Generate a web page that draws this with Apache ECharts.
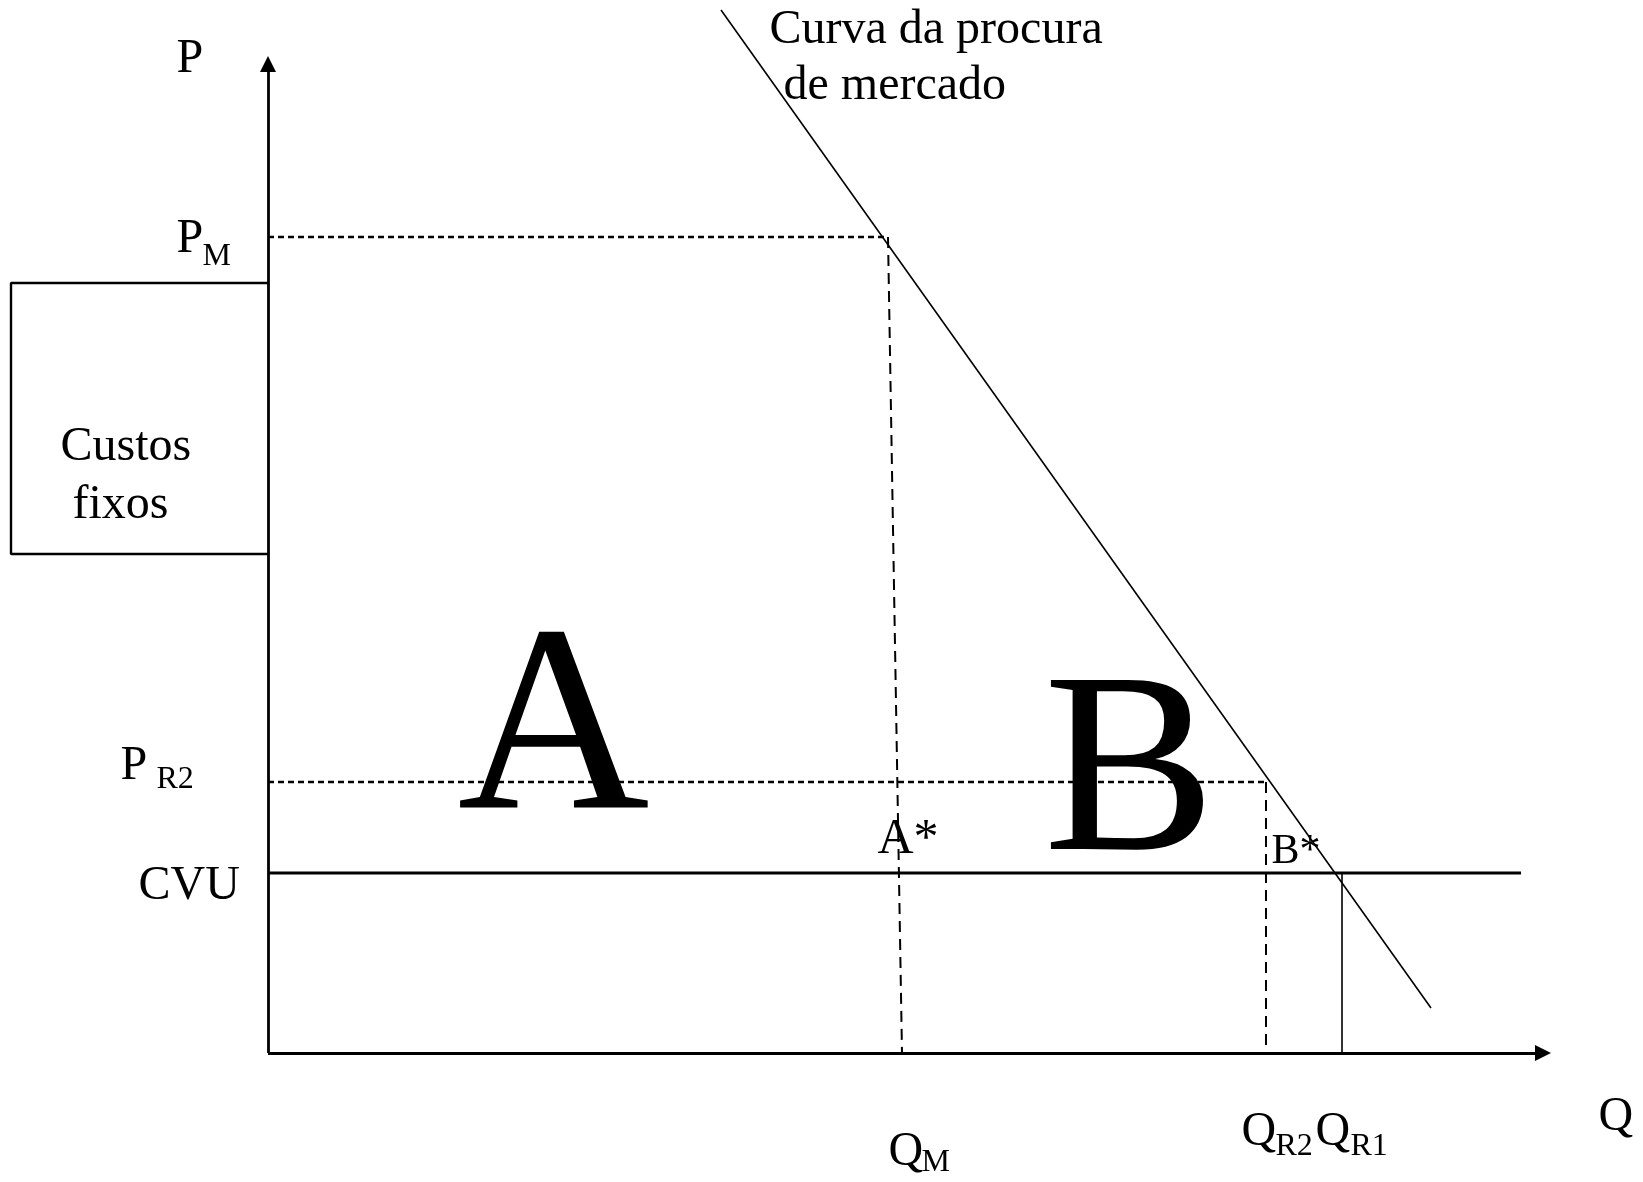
<!DOCTYPE html>
<html><head><meta charset="utf-8">
<script src="https://cdn.jsdelivr.net/npm/echarts@6/dist/echarts.min.js"></script>
<style>html,body{margin:0;padding:0;background:#fff}#c{width:1643px;height:1182px}</style>
</head><body><div id="c"></div>
<script>
// ---- data (chart units on each axis) ----
const xRange = [-26.8, 137.5];
const yRange = [-12.9, 105.3];
const axisEnds = [127.5, 98.9];               // Q axis end, P axis end
const priceLevels = [81.6, 27.1, 18.0];       // P_M, P_R2, CVU
const quantityLevels = [62.0, 99.8, 107.4];   // Q_M, Q_R2, Q_R1
const qmFoot = 63.4;                          // where the Q_M guide meets the Q axis
const cvuEnd = 125.3;
const demandCurve = [[45.3, 104.3], [116.3, 4.5]];
const fixedCostBox = [[0, 77.0], [-25.7, 77.0], [-25.7, 49.9], [0, 49.9]];

const labelTexts = ['P', 'P', 'M', 'P', 'R2', 'CVU', 'Custos', 'fixos',
  'Curva da procura', 'de mercado', 'A', 'B', 'A*', 'B*',
  'Q', 'M', 'Q', 'R2', 'Q', 'R1', 'Q'];
const labelAnchors = [[-9.1, 99.33], [-9.1, 81.33], [-6.5, 79.62], [-14.7, 28.63], [-11.1, 27.32],
  [-12.9, 16.63], [-20.7, 60.53], [-19.5, 54.73], [50.2, 102.23], [51.6, 96.58],
  [19.0, 31.49], [77.6, 27.13], [61.0, 21.29], [100.4, 20.08],
  [62.1, -9.97], [65.4, -10.98], [97.4, -7.97], [100.8, -9.4], [104.8, -7.97], [108.3, -9.4], [133.1, -6.47]];
const labelKinds = ['main', 'main', 'sub', 'main', 'sub', 'main', 'main', 'main',
  'main', 'main', 'bigA', 'bigB', 'starA', 'starB',
  'main', 'sub', 'main', 'sub', 'main', 'sub', 'main'];

// ---- styles ----
const FONT = '"Liberation Serif", "Times New Roman", serif';
const kindSize = { main: 48, sub: 32, bigA: 266, bigB: 258, starA: 50, starB: 42 };

function seg(points, width, type) {
  return {
    type: 'line', data: points, showSymbol: false, symbol: 'none', silent: true,
    clip: false, animation: false,
    lineStyle: { color: '#000', width: width, type: type || 'solid', cap: 'butt' },
    z: 2
  };
}

const series = [
  seg(fixedCostBox, 2.4),
  seg([[0, priceLevels[0]], [quantityLevels[0], priceLevels[0]]], 2.4, [6, 4]),
  seg([[quantityLevels[0], priceLevels[0]], [qmFoot, 0]], 2, [11, 7]),
  seg([[0, priceLevels[1]], [quantityLevels[1], priceLevels[1]]], 2.4, [6, 4]),
  seg([[quantityLevels[1], priceLevels[1]], [quantityLevels[1], 0]], 2, [11, 7]),
  seg([[0, priceLevels[2]], [cvuEnd, priceLevels[2]]], 2.8),
  seg([[quantityLevels[2], priceLevels[2]], [quantityLevels[2], 0]], 1.6),
  seg(demandCurve, 1.6),
  {
    type: 'line', data: [], silent: true, animation: false,
    markLine: {
      silent: true, animation: false, symbol: ['none', 'triangle'], symbolSize: 16,
      label: { show: false },
      lineStyle: { color: '#000', width: 2.8, type: 'solid' },
      data: [
        [{ coord: [0, 0] }, { coord: [axisEnds[0], 0] }],
        [{ coord: [0, 0] }, { coord: [0, axisEnds[1]] }]
      ]
    }
  },
  {
    type: 'scatter', silent: true, animation: false, symbolSize: 1,
    itemStyle: { color: 'rgba(255,255,255,0)' },
    label: {
      show: true, position: [0, 0], align: 'left', verticalAlign: 'middle',
      fontFamily: FONT, color: '#000000', opacity: 1, textBorderWidth: 0,
      formatter: p => p.data.text
    },
    data: labelTexts.map((t, i) => ({
      value: labelAnchors[i],
      text: t,
      label: {
        fontSize: kindSize[labelKinds[i]],
        lineHeight: kindSize[labelKinds[i]],
        color: '#000000'
      }
    })),
    z: 5
  }
];

const chart = echarts.init(document.getElementById('c'), null, { renderer: 'canvas' });
chart.setOption({
  backgroundColor: '#fff',
  animation: false,
  textStyle: { color: '#000000', fontFamily: FONT },
  grid: { left: 0, right: 0, top: 0, bottom: 0 },
  xAxis: { type: 'value', min: xRange[0], max: xRange[1], show: false },
  yAxis: { type: 'value', min: yRange[0], max: yRange[1], show: false },
  series: series
});
</script></body></html>
